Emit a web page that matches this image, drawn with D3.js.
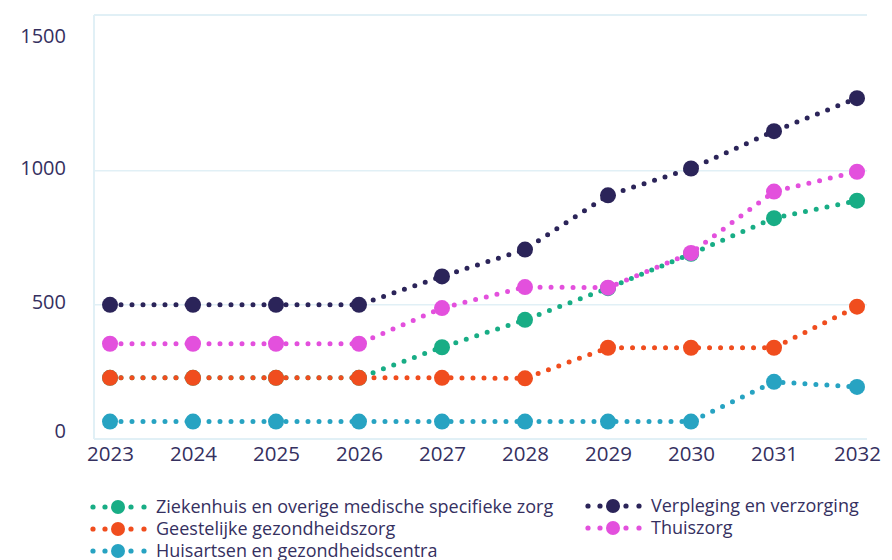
<!DOCTYPE html>
<html><head><meta charset="utf-8">
<script src="https://cdn.jsdelivr.net/npm/d3@7"></script>
<style>
body{margin:0;background:#fff;}
text{font-family:"Open Sans","Noto Sans",sans-serif;fill:#35305f;}
</style></head>
<body><svg id="c" width="892" height="560"></svg>
<script>
const years = [2023,2024,2025,2026,2027,2028,2029,2030,2031,2032];
const ziekenhuis = [228,228,228,228,342,444,562,690,823,888];
const geestelijk = [228,228,228,228,228,226,340,340,340,493];
const huisartsen = [65,65,65,65,65,65,65,65,213,194];
const verpleging = [500,500,500,500,606,706,908,1008,1147,1270];
const thuiszorg  = [355,355,355,355,488,566,564,693,922,996];
const seriesNames = ["Ziekenhuis en overige medische specifieke zorg","Geestelijke gezondheidszorg","Huisartsen en gezondheidscentra","Verpleging en verzorging","Thuiszorg"];
const seriesColors = ["#18ad85","#f04d1e","#27a3c2","#2b2459","#e350dd"];
const seriesValues = [ziekenhuis,geestelijk,huisartsen,verpleging,thuiszorg];
const yTicks = [0,500,1000,1500];
const gridValues = [500,1000];

const svg = d3.select("#c");
const x = d3.scaleLinear().domain([2023,2032]).range([110,857]);
const y = d3.scaleLinear().domain([0,1580]).range([439,15]);
const frameL = 94, frameR = 867;

// frame & grid
const g = svg.append("g");
g.append("line").attr("x1",frameL).attr("x2",frameR).attr("y1",y(1580)).attr("y2",y(1580)).attr("stroke","#e1f0f6").attr("stroke-width",2);
g.selectAll(".grid").data(gridValues).join("line").attr("x1",frameL).attr("x2",frameR)
  .attr("y1",d=>y(d)).attr("y2",d=>y(d)).attr("stroke","#e1f0f6").attr("stroke-width",1.5);
g.append("line").attr("x1",frameL).attr("x2",frameR).attr("y1",y(0)).attr("y2",y(0)).attr("stroke","#e1f0f6").attr("stroke-width",2);
g.append("line").attr("x1",frameL).attr("x2",frameL).attr("y1",y(1580)).attr("y2",y(0)).attr("stroke","#e1f0f6").attr("stroke-width",2);

// y axis labels
const yAxis = d3.axisLeft(y).tickValues(yTicks).tickFormat(d3.format("d")).tickSize(0).tickPadding(0);
const ya = svg.append("g").attr("transform","translate(66,0)").call(yAxis);
ya.select(".domain").remove();
ya.selectAll("text").style("font-size","20px").attr("fill","#35305f")
  .attr("dy","0.35em")
  .attr("y", d => d===0 ? -9 : (d===1500 ? -1 : -3.5));

// x axis labels
const xAxis = d3.axisBottom(x).tickValues(years).tickFormat(d3.format("d")).tickSize(0).tickPadding(0);
const xa = svg.append("g").attr("transform","translate(0,454)").call(xAxis);
xa.select(".domain").remove();
xa.selectAll("text").style("font-size","20.5px").attr("fill","#35305f").attr("dy","0.35em");

// series
const line = d3.line().x((d,i)=>x(years[i])).y(d=>y(d));
seriesValues.forEach((vals,si)=>{
  const sg = svg.append("g");
  sg.append("path").datum(vals).attr("d",line).attr("fill","none")
    .attr("stroke",seriesColors[si]).attr("stroke-width",5)
    .attr("stroke-linecap","round").attr("stroke-dasharray","0 11");
  sg.selectAll("circle").data(vals).join("circle")
    .attr("cx",(d,i)=>x(years[i])).attr("cy",d=>y(d)).attr("r",8).attr("fill",seriesColors[si]);
});

// legend
const legPos = [[93,507],[93,529],[93,551],[588,506],[588,528]];
seriesNames.forEach((name,si)=>{
  const [lx,ly] = legPos[si];
  const lg = svg.append("g").attr("transform",`translate(${lx},${ly})`);
  [0,12,38,51].forEach(dx=>lg.append("circle").attr("cx",dx).attr("cy",0).attr("r",2.6).attr("fill",seriesColors[si]));
  lg.append("circle").attr("cx",25).attr("cy",0).attr("r",7).attr("fill",seriesColors[si]);
  lg.append("text").attr("x",63).attr("y",0).attr("dy","0.35em").style("font-size","18px").attr("fill","#35305f").text(name);
});
</script></body></html>
